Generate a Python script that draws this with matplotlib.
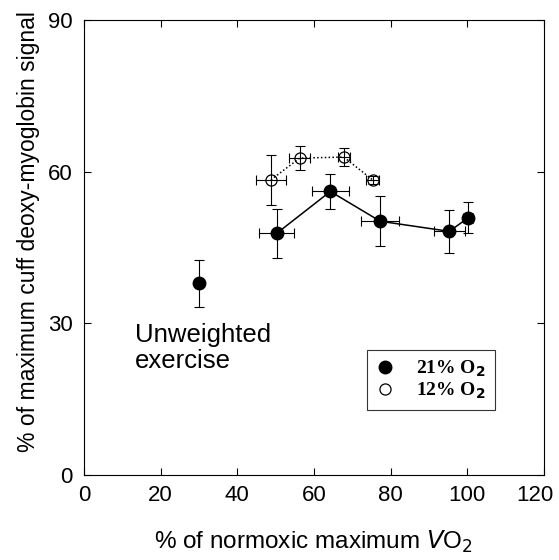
import numpy as np
import matplotlib.pyplot as plt
import matplotlib.transforms as mtransforms

# 21% O2 (filled)
x21 = [30, 50.3, 64.3, 77.3, 95.3, 100.3]
y21 = [37.9, 47.8, 56.1, 50.2, 48.2, 50.9]
x21_err = [0, 4.6, 4.9, 5.0, 4.0, 1.3]
y21_err = [4.7, 4.9, 3.5, 4.9, 4.2, 3.1]

# 12% O2 (open)
x12 = [48.8, 56.3, 67.8, 75.3]
y12 = [58.4, 62.7, 62.9, 58.4]
x12_err = [3.8, 2.7, 1.6, 1.6]
y12_err = [4.9, 2.4, 1.8, 0.8]

plt.rcParams['font.family'] = ['Liberation Sans', 'DejaVu Sans']
fig = plt.figure(figsize=(5.59, 5.60), dpi=100)
ax = fig.add_axes([0.150, 0.152, 0.823, 0.812])

# error bars
ax.errorbar(x21, y21, xerr=x21_err, yerr=y21_err, fmt='none', ecolor='black',
            elinewidth=0.8, capsize=3.5, capthick=0.8)
ax.errorbar(x12, y12, xerr=x12_err, yerr=y12_err, fmt='none', ecolor='black',
            elinewidth=0.8, capsize=3.5, capthick=0.8)

# connecting lines (unweighted point not joined)
ax.plot(x21[1:], y21[1:], color='black', lw=1.1)
ax.plot(x12, y12, color='black', lw=1.1, ls=(0, (1, 1.5)))

ax.plot(x21, y21, 'o', color='black', ms=9, ls='none', zorder=5, label='21% O$_\\mathbf{2}$')
ax.plot(x12, y12, 'o', mfc='none', mec='black', mew=0.9, ms=8, ls='none', zorder=5,
        label='12% O$_\\mathbf{2}$')

ax.text(13.3, 26.3, 'Unweighted', fontsize=18.5, ha='left', va='baseline')
ax.text(13.3, 21.1, 'exercise', fontsize=18.5, ha='left', va='baseline')

ax.set_xlim(0, 120)
ax.set_ylim(0, 90)
ax.set_xticks(np.arange(0, 121, 20))
ax.set_yticks([0, 30, 60, 90])
ax.tick_params(direction='in', top=True, right=True, length=5, width=0.8,
               labelsize=16)
ax.tick_params(axis='x', pad=7)
ax.tick_params(axis='y', pad=8)
for s in ax.spines.values():
    s.set_linewidth(0.8)

# last x tick label sits a bit left of its tick in the original
lab = ax.get_xticklabels()[-1]
lab.set_transform(lab.get_transform() + mtransforms.ScaledTranslation(-0.09, 0, fig.dpi_scale_trans))

ax.set_ylabel('% of maximum cuff deoxy-myoglobin signal', fontsize=16.5)
ax.yaxis.set_label_coords(-0.095, 0.535)
ax.set_xlabel('% of normoxic maximum $\\mathit{V}$O$_2$', fontsize=17.5, labelpad=17)

leg = ax.legend(loc='lower left', bbox_to_anchor=(0.615, 0.143), frameon=True,
                fancybox=False, edgecolor='black', handletextpad=1.1,
                prop={'family': 'Liberation Serif', 'weight': 'bold', 'size': 14},
                borderpad=0.45, labelspacing=0.1, handlelength=1.0,
                borderaxespad=0)
leg.get_frame().set_linewidth(0.8)

plt.savefig('out.png', dpi=100)
